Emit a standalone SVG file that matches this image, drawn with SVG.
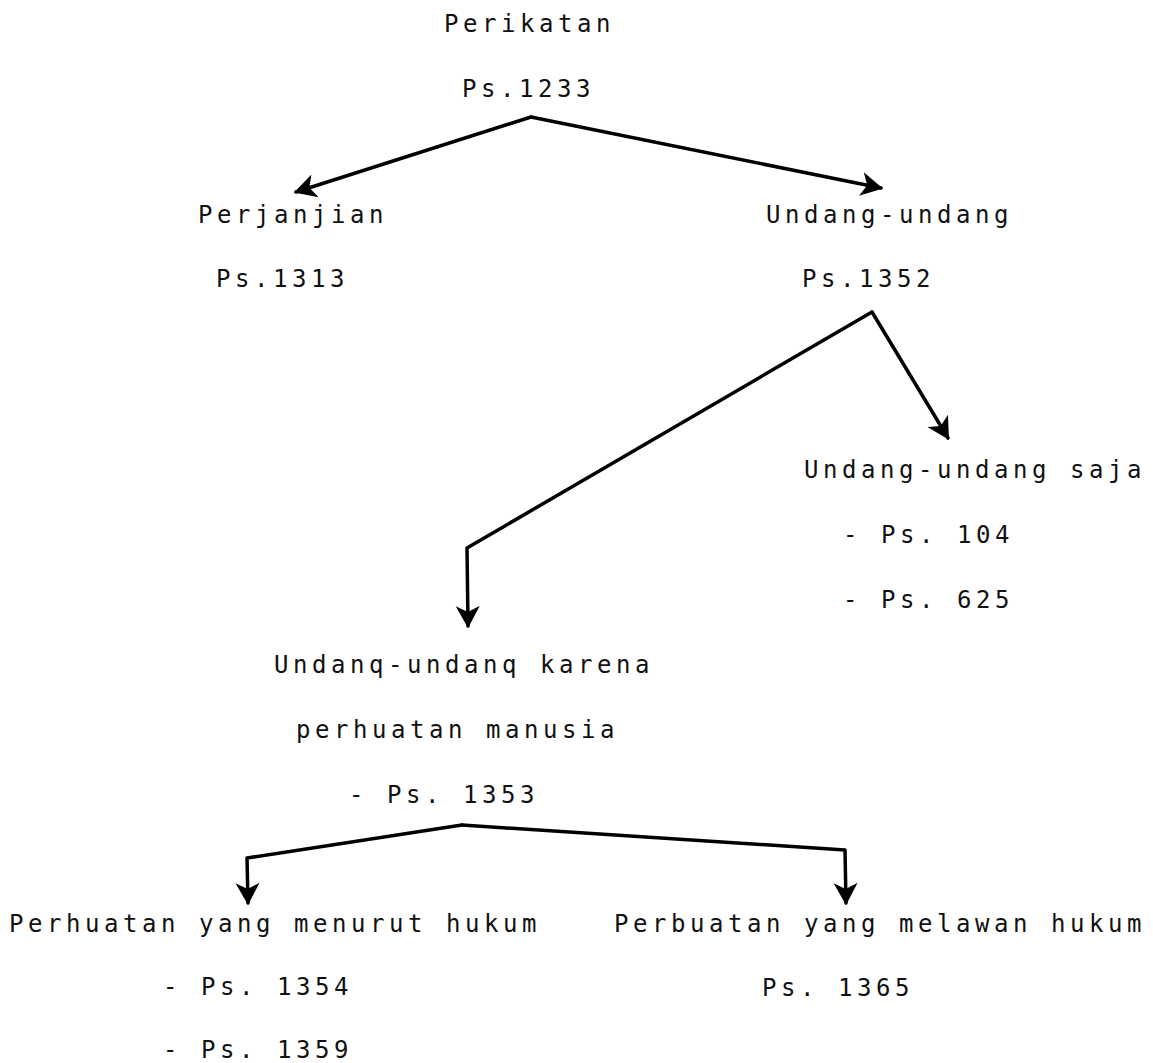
<svg xmlns="http://www.w3.org/2000/svg" width="1153" height="1063" viewBox="0 0 1153 1063">
  <style>
    text { font-family: "DejaVu Sans Mono", "Liberation Mono", monospace; font-size: 24px; letter-spacing: 4.55px; fill: #111; }
    .conn { fill: none; stroke: #000; stroke-width: 3.5; stroke-linejoin: round; stroke-linecap: round; marker-end: url(#arrow); }
  </style>
  <defs>
    <marker id="arrow" markerUnits="userSpaceOnUse" viewBox="0 0 22 26" refX="20" refY="13" markerWidth="22" markerHeight="26" orient="auto">
      <path d="M0,1 L22,13 L0,25 L6,13 Z" fill="#000"/>
    </marker>
  </defs>
  <rect width="1153" height="1063" fill="#fff"/>

  <g id="connectors">
    <path class="conn" d="M531,117 L296,192"/>
    <path class="conn" d="M531,117 L881,188"/>
    <path class="conn" d="M872,312 L948,438"/>
    <path class="conn" d="M872,312 L467,548 L468,626"/>
    <path class="conn" d="M462,825 L247,858 L248,903"/>
    <path class="conn" d="M462,825 L845,850 L846,903"/>
  </g>

  <g id="node-perikatan">
    <text x="444" y="32">Perikatan</text>
    <text x="462" y="97">Ps.1233</text>
  </g>
  <g id="node-perjanjian">
    <text x="198" y="223">Perjanjian</text>
    <text x="216" y="287">Ps.1313</text>
  </g>
  <g id="node-undang-undang">
    <text x="766" y="223">Undang-undang</text>
    <text x="802" y="287">Ps.1352</text>
  </g>
  <g id="node-undang-undang-saja">
    <text x="804" y="478">Undang-undang saja</text>
    <text x="843" y="543">- Ps. 104</text>
    <text x="843" y="608">- Ps. 625</text>
  </g>
  <g id="node-undang-undang-karena">
    <text x="274" y="673">Undanq-undanq karena</text>
    <text x="296" y="738">perhuatan manusia</text>
    <text x="349" y="803">- Ps. 1353</text>
  </g>
  <g id="node-menurut-hukum">
    <text x="9" y="932">Perhuatan yang menurut hukum</text>
    <text x="163" y="995">- Ps. 1354</text>
    <text x="163" y="1058">- Ps. 1359</text>
  </g>
  <g id="node-melawan-hukum">
    <text x="614" y="932">Perbuatan yang melawan hukum</text>
    <text x="762" y="996">Ps. 1365</text>
  </g>
</svg>
